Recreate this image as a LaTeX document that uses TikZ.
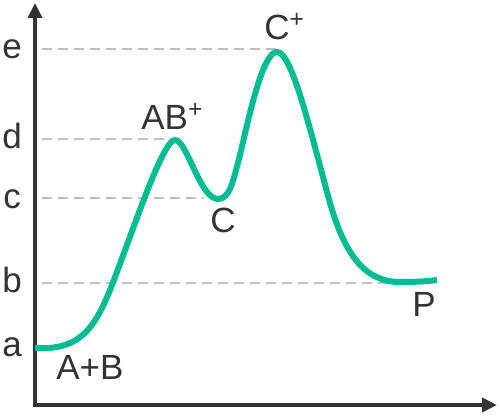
\documentclass[tikz,border=0pt]{standalone}
\usepackage{fontspec}
\setmainfont{Liberation Sans}
\usetikzlibrary{arrows.meta}
\definecolor{curvegreen}{HTML}{00BC94}
\definecolor{axisdark}{HTML}{333333}
\definecolor{guidegray}{HTML}{BFBFBF}

\begin{document}
\begin{tikzpicture}[
    x=0.5pt, y=-0.5pt,
    font=\fontsize{17.5}{19}\selectfont,
    axis/.style={
        draw=axisdark, line width=2pt,
        {Triangle[length=7.5pt,width=7pt]}-{Triangle[length=7.5pt,width=7pt]},
    },
    guide/.style={
        draw=guidegray, line width=1pt, dash pattern=on 5pt off 3pt,
    },
    energy/.style={
        draw=curvegreen, line width=3pt,
    },
    level/.style={
        text=axisdark, inner sep=0pt, anchor=base,
    },
    state/.style={
        text=axisdark, inner sep=0pt, anchor=base west,
    },
]
\useasboundingbox (0,0) rectangle (500,416);

% Dashed guide lines for the levels
\draw[guide] (42,49) -- (278,49);
\draw[guide] (42,139) -- (174,139);
\draw[guide] (42,198) -- (204,198);
\draw[guide] (42,283) -- (392,283);

% Axes
\draw[axis] (35,3) -- (35,405) -- (497,405);

% Level labels
\node[level] (lvle) at (12,59) {e};
\node[level] (lvld) at (12,149) {d};
\node[level] (lvlc) at (12,209) {c};
\node[level] (lvlb) at (12,293) {b};
\node[level] (lvla) at (12,357) {a};

% Reaction curve
\draw[energy]
    (35,348) .. controls (75,350) and (92,335) .. (110,290)
    .. controls (130,240) and (162,140) .. (175,140)
    .. controls (187,140) and (200,199) .. (218,199)
    .. controls (230,199) and (233,181) .. (240,155)
    .. controls (250,112) and (263,52) .. (277,52)
    .. controls (292,52) and (310,130) .. (330,203)
    .. controls (345,255) and (365,282) .. (400,282)
    .. controls (420,282) and (430,281) .. (437,280);

% State labels
\node[state] (reactants) at (56,380) {A+B};
\node[state] (abplus) at (141,130) {AB\textsuperscript{+}};
\node[state] (inter) at (210,233) {C};
\node[state] (cplus) at (264,40) {C\textsuperscript{+}};
\node[state] (product) at (412,317) {P};

\end{tikzpicture}
\end{document}
